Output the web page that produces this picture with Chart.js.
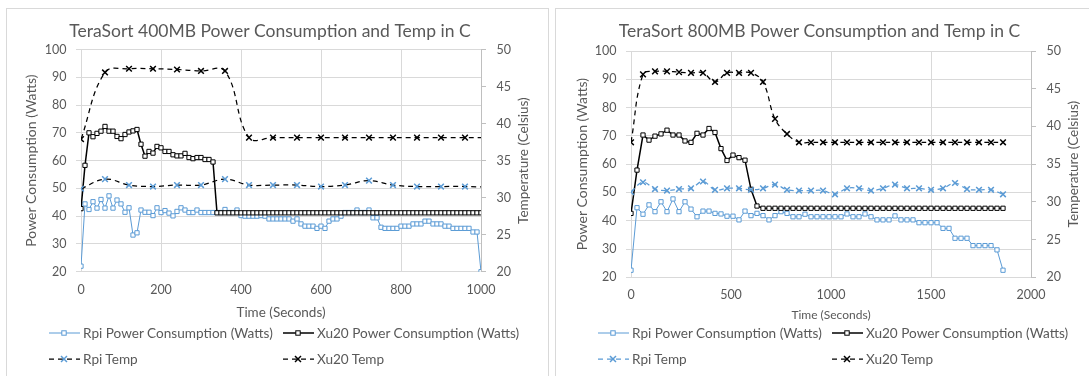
<!DOCTYPE html>
<html>
<head>
<meta charset="utf-8">
<script src="https://cdn.jsdelivr.net/npm/chart.js@4.4.1/dist/chart.umd.min.js"></script>
<style>
  body { margin: 0; width: 1089px; height: 376px; overflow: hidden; background: #fff; position: relative; font-family: Lato, sans-serif; }
  .panel { position: absolute; top: 8px; border: 1px solid #d9d9d9; height: 400px; overflow: hidden; background: #fff; }
  .panel canvas { position: absolute; left: 0; top: 0; }
  .item { position: absolute; height: 18px; display: flex; align-items: center; gap: 3px; font-size: 13.6px; color: #595959; white-space: nowrap; }
  .item svg { display: block; }
</style>
</head>
<body>
<div class="panel" id="p1" style="left:6px; width:541px;"><canvas id="c1" width="541" height="367"></canvas></div>
<div class="panel" id="p2" style="left:555px; width:540px;"><canvas id="c2" width="540" height="367"></canvas></div>
<script>
// series names (same in both charts)
const seriesNames = ['Rpi Power Consumption (Watts)', 'Xu20 Power Consumption (Watts)', 'Rpi Temp', 'Xu20 Temp'];

// tick labels
const powerTicks = [20, 30, 40, 50, 60, 70, 80, 90, 100];
const tempTicks = [20, 25, 30, 35, 40, 45, 50];
const time400Ticks = [0, 200, 400, 600, 800, 1000];
const time800Ticks = [0, 500, 1000, 1500, 2000];

// ---- TeraSort 400MB ----
const time400Power = [0,10,20,30,40,50,60,70,80,90,100,110,120,130,140,150,160,170,180,190,200,210,220,230,240,250,260,270,280,290,300,310,320,330,340,350,360,370,380,390,400,410,420,430,440,450,460,470,480,490,500,510,520,530,540,550,560,570,580,590,600,610,620,630,640,650,660,670,680,690,700,710,720,730,740,750,760,770,780,790,800,810,820,830,840,850,860,870,880,890,900,910,920,930,940,950,960,970,980,990,1000];
const rpiPower400 = [22,44.4,42.4,45.2,42.9,46.0,42.9,47.3,42.9,45.8,44.4,41.4,43.0,33.2,34.0,42.2,41.4,41.4,40.2,43.0,41.3,42.0,41.1,40.1,41.7,43.0,42.2,41.3,41.3,42.2,41.3,41.3,41.3,41.3,41.3,41.3,42.4,41.3,41.3,42.2,40.2,40.0,40.0,40.0,40.0,40.2,40.0,39.0,39.0,39.0,39.0,39.0,39.0,38.2,39.0,37.2,36.4,36.4,36.4,35.6,36.4,35.6,38.2,39.0,39.0,40.0,41.3,41.3,41.3,42.2,41.3,41.3,42.2,39.4,39.4,36.0,35.6,35.6,35.6,35.6,36.4,36.4,36.4,37.2,37.2,37.2,38.2,38.2,37.2,37.2,37.2,36.4,36.4,35.6,35.6,35.6,35.6,35.6,34.3,34.3,20];
const xuPower400 = [42.7,58.3,70.0,68.6,69.8,70.6,72.3,70.6,70.6,68.7,67.9,69.4,70.3,70.7,71.2,65.9,61.6,63.3,62.7,65.1,64.6,63.3,63.3,62.1,61.7,61.7,62.6,61.1,60.7,61.1,61.1,60.4,60.4,59.5,41.2,41.2,41.2,41.2,41.2,41.2,41.2,41.2,41.2,41.2,41.2,41.2,41.2,41.2,41.2,41.2,41.2,41.2,41.2,41.2,41.2,41.2,41.2,41.2,41.2,41.2,41.2,41.2,41.2,41.2,41.2,41.2,41.2,41.2,41.2,41.2,41.2,41.2,41.2,41.2,41.2,41.2,41.2,41.2,41.2,41.2,41.2,41.2,41.2,41.2,41.2,41.2,41.2,41.2,41.2,41.2,41.2,41.2,41.2,41.2,41.2,41.2,41.2,41.2,41.2,41.2,41.2];
const time400Temp = [0,60,120,180,240,300,360,420,480,540,600,660,720,780,840,900,960,1020];
const rpiTemp400 = [31.2,32.5,31.7,31.5,31.7,31.7,32.5,31.7,31.7,31.7,31.5,31.7,32.3,31.7,31.5,31.5,31.5,31.4];
const xuTemp400 = [37.9,46.9,47.4,47.4,47.3,47.1,47.1,38.1,38.1,38.1,38.1,38.1,38.1,38.1,38.1,38.1,38.1,38.1];

// ---- TeraSort 800MB ----
const time800Power = [0,30,60,90,120,150,180,210,240,270,300,330,360,390,420,450,480,510,540,570,600,630,660,690,720,750,780,810,840,870,900,930,960,990,1020,1050,1080,1110,1140,1170,1200,1230,1260,1290,1320,1350,1380,1410,1440,1470,1500,1530,1560,1590,1620,1650,1680,1710,1740,1770,1800,1830,1860];
const rpiPower800 = [22.5,44.6,42.3,45.6,43.2,46.7,43.2,47.7,43.2,46.7,44.1,41.4,43.4,43.4,42.6,42.4,41.6,41.6,40.3,43.4,41.8,42.6,41.8,40.3,41.8,43.2,42.6,41.4,41.4,42.3,41.4,41.4,41.4,41.4,41.4,41.4,42.4,41.4,41.4,42.4,41.4,40.3,40.3,40.3,41.7,40.3,40.3,40.3,39.3,39.3,39.3,39.3,37.3,37.3,33.8,33.8,33.8,31.2,31.2,31.2,31.2,29.7,22.5];
const xuPower800 = [42.6,57.9,70.3,68.5,69.9,70.7,72.0,70.3,70.3,68.2,67.7,70.9,70.3,72.6,71.2,65.5,61.3,63.2,62.3,61.4,51.1,45.2,44.4,44.4,44.4,44.4,44.4,44.4,44.4,44.4,44.4,44.4,44.4,44.4,44.4,44.4,44.4,44.4,44.4,44.4,44.4,44.4,44.4,44.4,44.4,44.4,44.4,44.4,44.4,44.4,44.4,44.4,44.4,44.4,44.4,44.4,44.4,44.4,44.4,44.4,44.4,44.4,44.4];
const time800Temp = [0,60,120,180,240,300,360,420,480,540,600,660,720,780,840,900,960,1020,1080,1140,1200,1260,1320,1380,1440,1500,1560,1620,1680,1740,1800,1860];
const rpiTemp800 = [31.3,32.6,31.7,31.5,31.7,31.8,32.7,31.6,31.8,31.8,31.6,31.8,32.3,31.6,31.5,31.5,31.5,31.0,31.8,31.8,31.5,31.8,32.3,31.8,31.8,31.6,31.8,32.5,31.7,31.6,31.6,31.0];
const xuTemp800 = [37.9,46.9,47.3,47.3,47.2,47.1,47.1,45.9,47.1,47.1,47.1,45.9,41.0,39.0,37.9,37.9,37.9,37.9,37.9,37.9,37.9,37.9,37.9,37.9,37.9,37.9,37.9,37.9,37.9,37.9,37.9,37.9];

const blue = '#5b9bd5';
const grey = '#595959';
const gridGrey = '#d9d9d9';

Chart.defaults.font.family = 'Lato';
Chart.defaults.color = grey;

function pts(xs, ys) {
  return xs.map((x, i) => ({ x: x, y: ys[i] }));
}

// secondary axis title reads bottom to top like excel
const rightTitle = {
  id: 'rightTitle',
  afterDraw(chart, args, opts) {
    const { ctx, chartArea } = chart;
    ctx.save();
    ctx.translate(chartArea.right + 42.5, (chartArea.top + chartArea.bottom) / 2);
    ctx.rotate(-Math.PI / 2);
    ctx.font = '13.5px Lato';
    ctx.fillStyle = grey;
    ctx.textAlign = 'center';
    ctx.textBaseline = 'middle';
    ctx.fillText(opts.text, 0, 0);
    ctx.restore();
  }
};

function makeChart(id, c) {
  const datasets = [
    { label: seriesNames[0], data: pts(c.powerTime, c.rpiPower), yAxisID: 'y',
      borderColor: blue, borderWidth: 1, pointStyle: 'rect', pointRadius: 3,
      pointBackgroundColor: '#fff', pointBorderColor: blue, pointBorderWidth: 1, order: 4 },
    { label: seriesNames[1], data: pts(c.powerTime, c.xuPower), yAxisID: 'y',
      borderColor: '#000', borderWidth: 1.5, pointStyle: 'rect', pointRadius: 3,
      pointBackgroundColor: '#fff', pointBorderColor: '#000', pointBorderWidth: 1, order: 3 },
    { label: seriesNames[2], data: pts(c.tempTime, c.rpiTemp), yAxisID: 'y2',
      borderColor: c.rpiTempLine, borderWidth: 1.25, borderDash: [5, 4], tension: 0.4,
      pointStyle: 'crossRot', pointRadius: 4, pointBorderColor: blue, pointBorderWidth: 1.5, order: 2 },
    { label: seriesNames[3], data: pts(c.tempTime, c.xuTemp), yAxisID: 'y2',
      borderColor: '#000', borderWidth: 1.25, borderDash: [5, 4], tension: 0.4,
      pointStyle: 'crossRot', pointRadius: 4, pointBorderColor: '#000', pointBorderWidth: 1.5, order: 1 }
  ];

  const chart = new Chart(document.getElementById(id), {
    type: 'line',
    data: { datasets: datasets },
    plugins: [rightTitle],
    options: {
      responsive: false,
      animation: false,
      devicePixelRatio: 1,
      layout: { padding: { left: 0, right: c.padRight, top: 0, bottom: c.padBottom } },
      plugins: {
        legend: { display: false },
        tooltip: { enabled: false },
        title: { display: true, text: c.title, color: grey,
          font: { size: 17.5, weight: 'normal' }, padding: { top: 12, bottom: c.titleGap } },
        rightTitle: { text: 'Temperature (Celsius)' }
      },
      scales: {
        x: {
          type: 'linear', min: c.xTicks[0], max: c.xTicks[c.xTicks.length - 1],
          afterBuildTicks: s => { s.ticks = c.xTicks.map(v => ({ value: v })); },
          afterFit: s => { s.height = c.xHeight; },
          grid: { color: gridGrey, drawTicks: false },
          border: { color: gridGrey },
          ticks: { padding: c.xPad, font: { size: 12.5 }, callback: v => String(v) },
          title: { display: true, text: 'Time (Seconds)', font: { size: c.xTitleSize }, padding: { top: 0, bottom: 1 } }
        },
        y: {
          position: 'left', min: 20, max: 100,
          afterBuildTicks: s => { s.ticks = powerTicks.map(v => ({ value: v })); },
          afterFit: s => { s.width = c.yWidth; },
          grid: { color: gridGrey, tickLength: 5 },
          border: { color: gridGrey },
          ticks: { padding: 9.5, font: { size: 12.5 }, callback: v => String(v) },
          title: { display: true, text: 'Power Consumption (Watts)', font: { size: 14 }, padding: { top: c.yTitlePad, bottom: 0 } }
        },
        y2: {
          position: 'right', min: 20, max: 50,
          afterBuildTicks: s => { s.ticks = tempTicks.map(v => ({ value: v })); },
          afterFit: s => { s.width = 52; },
          grid: { drawOnChartArea: false, color: '#bfbfbf', tickLength: 5 },
          border: { color: '#bfbfbf' },
          ticks: { padding: 10.5, font: { size: 12.5 }, callback: v => String(v) }
        }
      }
    }
  });

  // excel style legend, two rows, two columns
  const panel = document.getElementById(c.panel);
  const cols = [42, 276];
  const rows = [323.7, 350.3];
  chart.data.datasets.forEach((ds, i) => {
    const div = document.createElement('div');
    div.className = 'item';
    div.style.left = cols[i % 2] + 'px';
    div.style.top = (rows[Math.floor(i / 2)] - 9) + 'px';
    div.innerHTML = sample(ds) + '<span>' + ds.label + '</span>';
    panel.appendChild(div);
  });
}

function sample(ds) {
  const dash = ds.borderDash ? ' stroke-dasharray="5 4"' : '';
  let mark;
  if (ds.pointStyle === 'rect') {
    mark = '<rect x="12.8" y="2.8" width="4.4" height="4.4" fill="#fff" stroke="' + ds.pointBorderColor + '" stroke-width="1"/>';
  } else {
    const m = ds.pointBorderColor;
    mark = '<line x1="12" y1="2" x2="18" y2="8" stroke="' + m + '" stroke-width="1.5"/>' +
           '<line x1="12" y1="8" x2="18" y2="2" stroke="' + m + '" stroke-width="1.5"/>';
  }
  return '<svg width="31" height="10"><line x1="0" y1="5" x2="31" y2="5" stroke="' + ds.borderColor +
    '" stroke-width="' + ds.borderWidth + '"' + dash + '/>' + mark + '</svg>';
}

makeChart('c1', {
  panel: 'p1', title: 'TeraSort 400MB Power Consumption and Temp in C',
  powerTime: time400Power, rpiPower: rpiPower400, xuPower: xuPower400,
  tempTime: time400Temp, rpiTemp: rpiTemp400, xuTemp: xuTemp400,
  rpiTempLine: '#000', xTicks: time400Ticks,
  padRight: 15, padBottom: 54.3, titleGap: 7.5, xHeight: 50, xPad: 11, xTitleSize: 13.5,
  yWidth: 74, yTitlePad: 16.5
});

makeChart('c2', {
  panel: 'p2', title: 'TeraSort 800MB Power Consumption and Temp in C',
  powerTime: time800Power, rpiPower: rpiPower800, xuPower: xuPower800,
  tempTime: time800Temp, rpiTemp: rpiTemp800, xuTemp: xuTemp800,
  rpiTempLine: blue, xTicks: time800Ticks,
  padRight: 13, padBottom: 52.7, titleGap: 9, xHeight: 46, xPad: 10, xTitleSize: 12,
  yWidth: 75, yTitlePad: 18
});
</script>
</body>
</html>
